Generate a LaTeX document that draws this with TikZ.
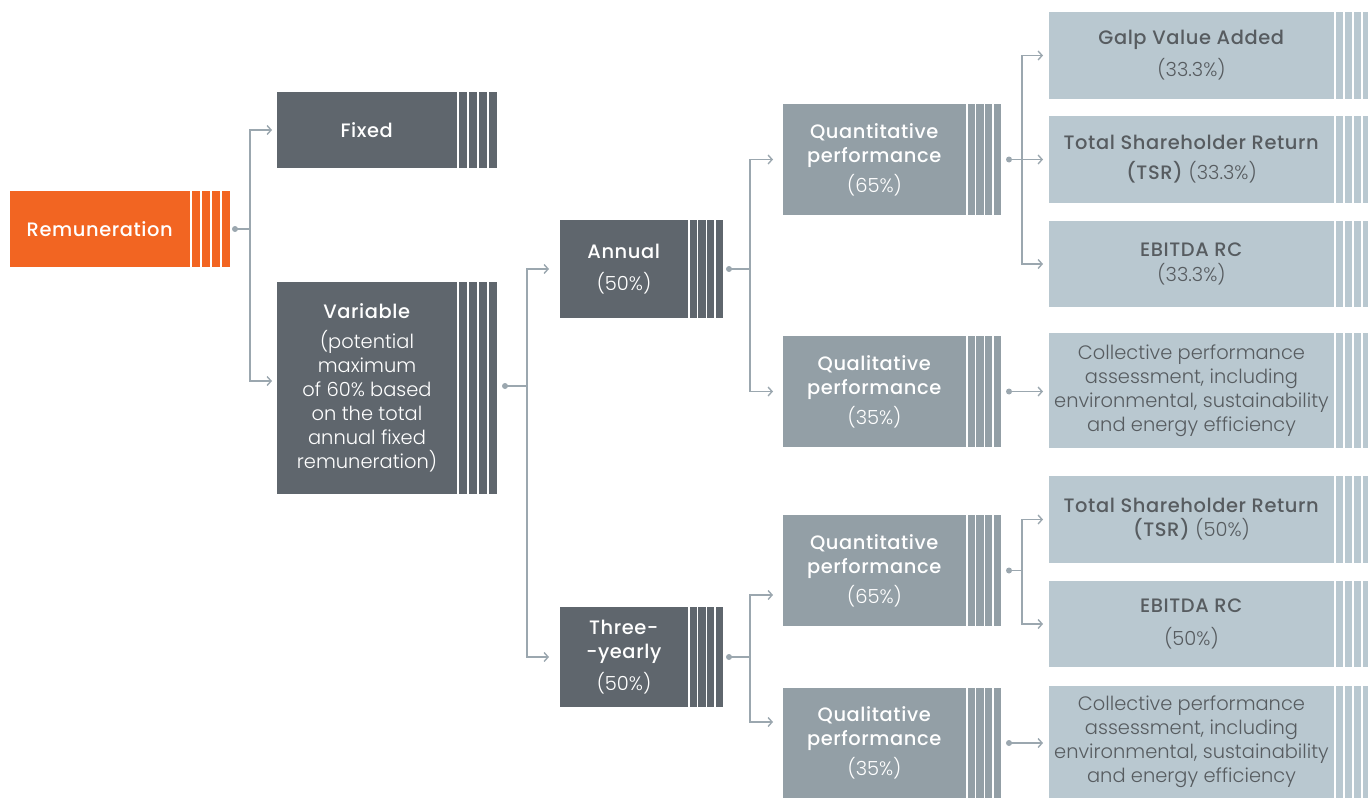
\documentclass[tikz,border=0pt]{standalone}
\usepackage{fontspec}
\setmainfont{Poppins}[UprightFont={Poppins Light},BoldFont={Poppins Medium},BoldFeatures={LetterSpace=3}]
\usetikzlibrary{arrows.meta,calc}
\definecolor{orng}{HTML}{F26522}
\definecolor{darkg}{HTML}{5F666D}
\definecolor{midg}{HTML}{939FA6}
\definecolor{lightg}{HTML}{B9C8D0}
\definecolor{txtg}{HTML}{575C60}
\definecolor{conng}{HTML}{9BA7AF}
\tikzset{
  base/.style={inner sep=0pt, outer sep=0pt, align=center, anchor=north west,
    font=\fontsize{19.5}{24}\selectfont},
  orangebox/.style={base, fill=orng, text=white},
  darkbox/.style={base, fill=darkg, text=white},
  midbox/.style={base, fill=midg, text=white},
  lightbox/.style={base, fill=lightg, text=txtg},
  conn/.style={draw=conng, line width=1.6bp},
  arr/.style={conn, -{Straight Barb[length=4bp,width=9bp,line width=1.4bp]}},
  dotc/.style={fill=conng},
}
% name, x1, y1, x main end, y2, stripe width, style, colour, text
\newcommand{\stripedbox}[9]{%
  \node[#7, minimum width={(#4-#2)*1bp}, minimum height={(#5-#3)*1bp}] (#1) at (#2,#3) {#9};
  \foreach \k in {0,1,2,3}{%
    \fill[#8] ($(#1.north east)+(\k*#6+1.5,0)$) rectangle ($(#1.south east)+(\k*#6+#6,0)$);}%
}
\begin{document}
\begin{tikzpicture}[x=1bp,y=-1bp]
\useasboundingbox (0,0) rectangle (1368,799);
\clip (0,0) rectangle (1368,799);

% boxes
\stripedbox{rem}{10}{191}{190}{267}{10}{orangebox}{orng}{\textbf{Remuneration}}
\stripedbox{fixed}{277}{92}{457}{168}{10}{darkbox}{darkg}{\textbf{Fixed}}
\stripedbox{var}{277}{282}{457}{494}{10}{darkbox}{darkg}{\textbf{Variable}\\[6bp](potential\\maximum\\of 60\% based\\on the total\\annual fixed\\remuneration)}
\stripedbox{annual}{560}{220}{688}{318}{8.75}{darkbox}{darkg}{\textbf{Annual}\\[8bp](50\%)}
\stripedbox{three}{560}{607}{688}{707}{8.75}{darkbox}{darkg}{\textbf{Three-}\\\textbf{-yearly}\\[8bp](50\%)}
\stripedbox{qa}{783}{104}{966}{215}{8.75}{midbox}{midg}{\textbf{Quantitative}\\\textbf{performance}\\[6bp](65\%)}
\stripedbox{qla}{783}{336}{966}{447}{8.75}{midbox}{midg}{\textbf{Qualitative}\\\textbf{performance}\\[6bp](35\%)}
\stripedbox{qt}{783}{515}{966}{626}{8.75}{midbox}{midg}{\textbf{Quantitative}\\\textbf{performance}\\[6bp](65\%)}
\stripedbox{qlt}{783}{688}{966}{798}{8.75}{midbox}{midg}{\textbf{Qualitative}\\\textbf{performance}\\[6bp](35\%)}
\stripedbox{galp}{1049}{12}{1334}{99}{9}{lightbox}{lightg}{\textbf{Galp Value Added}\\[8bp](33.3\%)}
\stripedbox{tsra}{1049}{116}{1334}{203}{9}{lightbox}{lightg}{\textbf{Total Shareholder Return}\\[6bp]\textbf{(TSR)} (33.3\%)}
\stripedbox{eba}{1049}{221}{1334}{307}{9}{lightbox}{lightg}{\textbf{EBITDA RC}\\[2bp](33.3\%)}
\stripedbox{colla}{1049}{333}{1334}{448}{9}{lightbox}{lightg}{Collective performance\\assessment, including\\environmental, sustainability\\and energy efficiency}
\stripedbox{tsrb}{1049}{476}{1334}{563}{9}{lightbox}{lightg}{\textbf{Total Shareholder Return}\\\textbf{(TSR)} (50\%)}
\stripedbox{ebb}{1049}{581}{1334}{667}{9}{lightbox}{lightg}{\textbf{EBITDA RC}\\[10bp](50\%)}
\stripedbox{collb}{1049}{686}{1334}{798}{9}{lightbox}{lightg}{Collective performance\\assessment, including\\environmental, sustainability\\and energy efficiency}

% connector points
\coordinate (remdot) at ($(rem.east)+(45,0)$);
\coordinate (rembus) at ($(remdot)+(15,0)$);
\coordinate (vardot) at ($(var.east)+(48,-2)$);
\coordinate (varbus) at ($(vardot)+(22,0)$);
\coordinate (anndot) at ($(annual.east)+(41,0)$);
\coordinate (annbus) at ($(anndot)+(21,0)$);
\coordinate (thrdot) at ($(three.east)+(41,0)$);
\coordinate (thrbus) at ($(thrdot)+(21,0)$);
\coordinate (qadot) at ($(qa.east)+(43,0)$);
\coordinate (qabus) at ($(qadot)+(13,0)$);
\coordinate (qladot) at ($(qla.east)+(43,0)$);
\coordinate (qtdot) at ($(qt.east)+(43,0)$);
\coordinate (qtbus) at ($(qtdot)+(13,0)$);
\coordinate (qltdot) at ($(qlt.east)+(43,0)$);

% connectors
\draw[conn] (remdot) -- (rembus);
\draw[arr] (rembus) |- ([xshift=-5bp]fixed.west);
\draw[arr] (rembus) |- ([xshift=-5bp,yshift=7bp]var.west);
\fill[dotc] (remdot) circle (3bp);

\draw[conn] (vardot) -- (varbus);
\draw[arr] (varbus) |- ([xshift=-11bp]annual.west);
\draw[arr] (varbus) |- ([xshift=-11bp]three.west);
\fill[dotc] (vardot) circle (3bp);

\draw[conn] (anndot) -- (annbus);
\draw[arr] (annbus) |- ([xshift=-10bp]qa.west);
\draw[arr] (annbus) |- ([xshift=-10bp]qla.west);
\fill[dotc] (anndot) circle (3bp);

\draw[conn] (thrdot) -- (thrbus);
\draw[arr] (thrbus) |- ([xshift=-10bp,yshift=-24.5bp]qt.west);
\draw[arr] (thrbus) |- ([xshift=-10bp,yshift=21bp]qlt.west);
\fill[dotc] (thrdot) circle (3bp);

\draw[conn] (qadot) -- (qabus);
\draw[arr] (qabus) |- ([xshift=-6bp]galp.west);
\draw[arr, shorten >=6bp] (qadot) -- (qadot -| tsra.west);
\draw[arr] (qabus) |- ([xshift=-6bp]eba.west);
\fill[dotc] (qadot) circle (3bp);

\draw[arr, shorten >=6bp] (qladot) -- (qladot -| colla.west);
\fill[dotc] (qladot) circle (3bp);

\draw[conn] (qtdot) -- (qtbus);
\draw[arr] (qtbus) |- ([xshift=-6bp]tsrb.west);
\draw[arr] (qtbus) |- ([xshift=-6bp]ebb.west);
\fill[dotc] (qtdot) circle (3bp);

\draw[arr, shorten >=6bp] (qltdot) -- (qltdot -| collb.west);
\fill[dotc] (qltdot) circle (3bp);
\end{tikzpicture}
\end{document}
